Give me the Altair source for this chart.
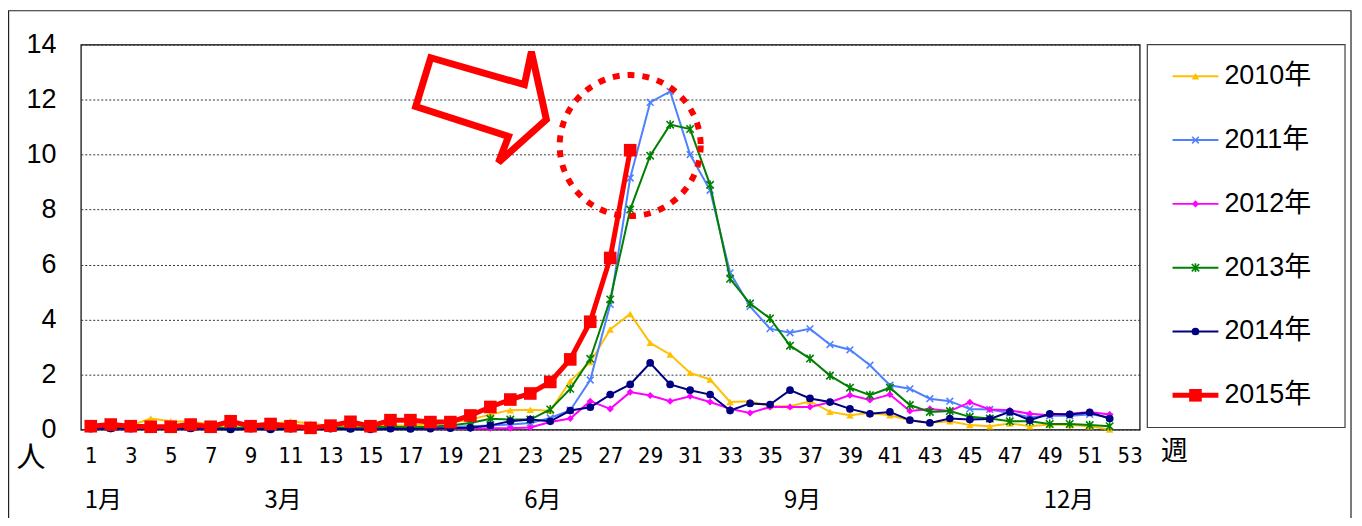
import altair as alt
import pandas as pd

# ---------------- data ----------------
weeks = list(range(1, 53))
y2010 = [0.1, 0.15, 0.15, 0.4, 0.3, 0.28, 0.2, 0.0, 0.12, 0.18, 0.3, 0.22, 0.12, 0.1, 0.12, 0.15, 0.15, 0.18, 0.25,
         0.35, 0.55, 0.7, 0.72, 0.68, 1.76, 2.45, 3.64, 4.2, 3.15, 2.73, 2.06, 1.82, 1.0, 1.03, 0.85, 0.85, 1.03,
         0.64, 0.52, 0.6, 0.52, 0.34, 0.25, 0.3, 0.16, 0.12, 0.22, 0.12, 0.18, 0.16, 0.12, 0.0]
y2011 = [0.05, 0.05, 0.04, 0.05, 0.05, 0.04, 0.05, 0.05, 0.04, 0.05, 0.05, 0.04, 0.05, 0.05, 0.05, 0.06, 0.06, 0.08, 0.1,
         0.12, 0.15, 0.18, 0.24, 0.42, 0.7, 1.8, 4.55, 9.15, 11.9, 12.3, 10.0, 8.7, 5.7, 4.48, 3.67, 3.52, 3.66,
         3.09, 2.9, 2.34, 1.61, 1.48, 1.12, 1.03, 0.75, 0.73, 0.6, 0.45, 0.5, 0.5, 0.55, 0.45]
y2012 = [0.04, 0.03, 0.05, 0.04, 0.05, 0.03, 0.04, 0.06, 0.05, 0.04, 0.05, 0.03, 0.04, 0.05, 0.04, 0.03, 0.02, 0.03, 0.04,
         0.04, 0.05, 0.05, 0.07, 0.27, 0.4, 1.03, 0.75, 1.36, 1.24, 1.03, 1.21, 1.0, 0.75, 0.6, 0.82, 0.82, 0.82,
         0.99, 1.25, 1.07, 1.27, 0.67, 0.75, 0.67, 0.99, 0.73, 0.7, 0.57, 0.52, 0.57, 0.64, 0.55]
y2013 = [0.08, 0.06, 0.07, 0.05, 0.06, 0.08, 0.05, 0.06, 0.07, 0.05, 0.06, 0.05, 0.07, 0.06, 0.08, 0.1, 0.08, 0.1, 0.15,
         0.24, 0.39, 0.36, 0.36, 0.73, 1.48, 2.57, 4.73, 8.0, 9.96, 11.09, 10.93, 8.9, 5.48, 4.58, 4.04, 3.05, 2.58,
         1.96, 1.52, 1.25, 1.52, 0.89, 0.64, 0.67, 0.46, 0.4, 0.3, 0.3, 0.2, 0.2, 0.16, 0.12]
y2014 = [0.03, 0.04, 0.03, 0.02, 0.03, 0.04, 0.03, 0.0, 0.03, 0.0, 0.03, 0.02, 0.03, 0.02, 0.0, 0.03, 0.02, 0.03, 0.05,
         0.06, 0.15, 0.3, 0.36, 0.3, 0.69, 0.81, 1.27, 1.64, 2.42, 1.64, 1.43, 1.27, 0.69, 0.95, 0.91, 1.43, 1.13,
         1.0, 0.75, 0.57, 0.64, 0.34, 0.24, 0.4, 0.36, 0.38, 0.64, 0.34, 0.57, 0.55, 0.62, 0.4]
y2015 = [0.12, 0.18, 0.12, 0.1, 0.1, 0.18, 0.1, 0.3, 0.12, 0.2, 0.12, 0.06, 0.14, 0.28, 0.12, 0.34, 0.34, 0.27, 0.27,
         0.51, 0.82, 1.09, 1.31, 1.73, 2.55, 3.92, 6.24, 10.16]

series_names = ["2010年", "2011年", "2012年", "2013年", "2014年", "2015年"]
series_values = [y2010, y2011, y2012, y2013, y2014, y2015]

x_ticks = list(range(1, 54, 2))
y_ticks = list(range(0, 15, 2))
month_labels = ["1月", "3月", "6月", "9月", "12月"]
month_weeks = [1, 10, 23, 36, 49]

# annotation anchors (data units)
circle_week, circle_value = 28.0, 10.33
arrow_week, arrow_value = 20.41, 12.0

# ---------------- styles ----------------
colors = ["#FFC000", "#4F81FF", "#FF00FF", "#008000", "#000080", "#FF0000"]
shapes = ["triangle-up", "M-1,-1L1,1M-1,1L1,-1", "diamond",
          "M-1,-1L1,1M-1,1L1,-1M0,-1.2L0,1.2", "circle", "square"]
filled = [True, False, True, False, True, True]
sizes = [55, 45, 50, 55, 60, 160]
widths = [2, 2, 2, 2, 2, 5]
arrow_path = "M-48,-42L46,-15L53,-48L68,20L20,63L30,37L-63,7Z"

W, H = 1062, 386
PAD = {"left": 73, "top": 36, "right": 215, "bottom": 88}
NUM_FONT = "Liberation Sans"
NARROW = "Liberation Sans Narrow, DejaVu Sans Condensed, Liberation Sans"
CJK = "Noto Sans CJK JP"

x_scale = alt.Scale(domain=[0.5, 53.5], nice=False, zero=False)
y_scale = alt.Scale(domain=[0, 14], nice=False)
x_axis = alt.Axis(values=x_ticks, title=None, grid=False, ticks=False, domain=False,
                  labelFont=NARROW, labelFontSize=22, labelPadding=16, labelColor="black",
                  labelFlush=False, labelOverlap=False)
y_axis = alt.Axis(values=y_ticks, title=None, grid=True, gridDash=[2, 2], gridColor="#333",
                  gridWidth=1, ticks=False, domain=False, labelFont=NUM_FONT, labelFontSize=27,
                  labelPadding=25, labelColor="black")


def xe():
    return alt.X("week:Q", scale=x_scale, axis=x_axis)


def ye():
    return alt.Y("value:Q", scale=y_scale, axis=y_axis)


layers = []
for i, (name, vals) in enumerate(zip(series_names, series_values)):
    df = pd.DataFrame({"week": weeks[:len(vals)], "value": vals, "series": name})
    line = alt.Chart(df).mark_line(color=colors[i], strokeWidth=widths[i]).encode(x=xe(), y=ye())
    pts = alt.Chart(df).mark_point(shape=shapes[i], filled=filled[i], size=sizes[i],
                                   color=colors[i], opacity=1,
                                   strokeWidth=1.6 if not filled[i] else 1).encode(x=xe(), y=ye())
    layers += [line, pts]

# dotted circle annotation
circ_df = pd.DataFrame({"week": [circle_week], "value": [circle_value]})
layers.append(alt.Chart(circ_df).mark_point(shape="circle", size=20000, filled=False, color="#FF0000",
                                            opacity=1, strokeWidth=6, strokeDash=[7, 8])
              .encode(x=xe(), y=ye()))
# outlined block arrow
arr_df = pd.DataFrame({"week": [arrow_week], "value": [arrow_value]})
layers.append(alt.Chart(arr_df).mark_point(shape=arrow_path, size=4, filled=False, color="#FF0000",
                                           opacity=1, strokeWidth=7, strokeJoin="miter")
              .encode(x=xe(), y=ye()))

# month labels
mdf = pd.DataFrame({"week": month_weeks, "label": month_labels})
layers.append(alt.Chart(mdf).mark_text(align="left", baseline="middle", dx=-6, font=CJK,
                                       fontSize=24, color="black")
              .encode(x=xe(), y=alt.value(458), text="label:N"))

# axis unit labels
one = pd.DataFrame({"a": [0]})
layers.append(alt.Chart(one).mark_text(text="人", font=CJK, fontSize=29, color="black",
                                       align="center", baseline="middle")
              .encode(x=alt.value(-50), y=alt.value(415)))
layers.append(alt.Chart(one).mark_text(text="週", font=CJK, fontSize=27, color="black",
                                       align="center", baseline="middle")
              .encode(x=alt.value(1097), y=alt.value(409)))

# legend box
layers.append(alt.Chart(one).mark_rect(filled=False, stroke="#404040", strokeWidth=1.2)
              .encode(x=alt.value(1069.7), x2=alt.value(1268), y=alt.value(0), y2=alt.value(384)))
for i, name in enumerate(series_names):
    yy = 31.7 + 64 * i
    ldf = pd.DataFrame({"label": [name]})
    layers.append(alt.Chart(ldf).mark_rule(color=colors[i], strokeWidth=widths[i])
                  .encode(x=alt.value(1095), x2=alt.value(1141), y=alt.value(yy)))
    layers.append(alt.Chart(ldf).mark_point(shape=shapes[i], filled=filled[i], size=sizes[i],
                                            color=colors[i], opacity=1,
                                            strokeWidth=1.6 if not filled[i] else 1)
                  .encode(x=alt.value(1118), y=alt.value(yy)))
    layers.append(alt.Chart(ldf).mark_text(align="left", baseline="middle", font=NUM_FONT + ", " + CJK,
                                           fontSize=27, color="black")
                  .encode(x=alt.value(1147), y=alt.value(yy), text="label:N"))

# outer frame
layers.append(alt.Chart(one).mark_rect(filled=False, stroke="#222", strokeWidth=1.2)
              .encode(x=alt.value(-72.4), x2=alt.value(1274), y=alt.value(-34), y2=alt.value(520)))

chart = alt.layer(*layers).properties(
    width=W, height=H,
    autosize=alt.AutoSizeParams(type="none"),
    padding=PAD,
    background="white",
).configure_view(stroke="black", strokeWidth=1.2)

chart.save("out.html", embed_options={"renderer": "svg", "actions": False})
